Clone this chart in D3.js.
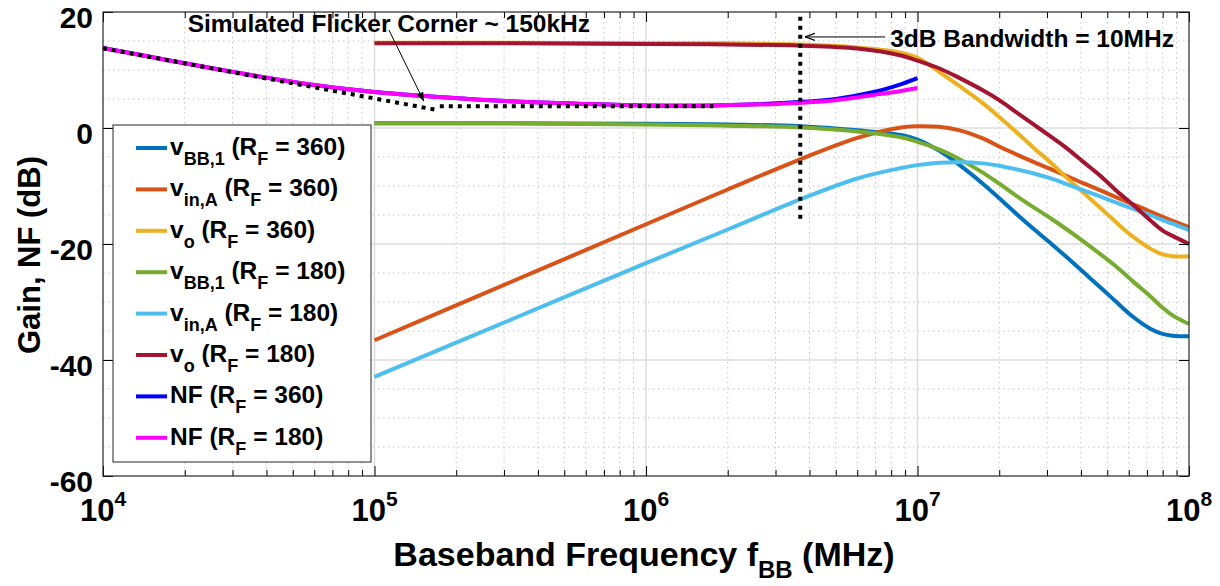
<!DOCTYPE html>
<html>
<head>
<meta charset="utf-8">
<script src="https://cdn.jsdelivr.net/npm/d3@7"></script>
<style>
  body { margin: 0; background: #fff; }
  svg { display: block; }
  text { font-family: "Liberation Sans", Arial, Helvetica, sans-serif; font-weight: bold; fill: #000; }
</style>
</head>
<body>
<svg id="chart" width="1220" height="586"></svg>
<script>
// ---- data -----------------------------------------------------------------
// Frequency grid (Hz) for the node-gain curves
const gainFreq = [1e5, 3.16e5, 1e6, 2e6, 3.7e6, 6e6, 8.7e6, 1e7, 1.2e7, 1.43e7, 1.74e7, 2e7,
                  2.3e7, 2.66e7, 3.1e7, 3.55e7, 4.07e7, 4.7e7, 5.43e7, 6.2e7, 7.2e7, 8e7, 8.7e7, 1e8];
// Gains in dB
const vBB1_360 = [0.8, 0.8, 0.75, 0.6, 0.3, -0.4, -1.2, -2.0, -3.9, -6.4, -9.6, -12.1,
                  -14.7, -17.3, -19.9, -22.3, -24.8, -27.4, -30.1, -32.5, -34.6, -35.5, -35.8, -35.9];
const vinA_360 = [-36.6, -26.6, -16.6, -10.6, -5.4, -1.7, 0.1, 0.3, 0.2, -0.4, -1.8, -3.2,
                  -4.5, -5.8, -7.1, -8.3, -9.5, -10.7, -12.0, -13.1, -14.4, -15.3, -16.0, -17.1];
const vo_360   = [14.7, 14.7, 14.6, 14.6, 14.4, 13.9, 13.0, 12.1, 9.7, 7.2, 4.3, 1.9,
                  -0.6, -3.3, -6.0, -8.6, -11.1, -13.7, -16.4, -18.7, -20.8, -21.8, -22.1, -22.1];
const vBB1_180 = [0.8, 0.8, 0.6, 0.4, 0.1, -0.6, -1.6, -2.4, -3.7, -5.4, -7.7, -9.6,
                  -11.6, -13.6, -15.6, -17.5, -19.5, -21.7, -24.0, -26.4, -29.0, -31.0, -32.3, -33.8];
const vinA_180 = [-42.9, -33.1, -23.3, -17.5, -12.3, -8.7, -6.9, -6.4, -6.0, -5.9, -6.1, -6.5,
                  -7.1, -7.8, -8.7, -9.7, -10.7, -11.8, -12.9, -13.9, -15.0, -15.9, -16.5, -17.6];
const vo_180   = [14.6, 14.6, 14.5, 14.4, 14.2, 13.7, 12.5, 11.6, 10.3, 8.6, 6.5, 4.8,
                  2.8, 0.7, -1.5, -3.5, -5.8, -8.2, -10.9, -13.2, -15.9, -17.7, -18.6, -20.0];

// Noise figure (dB)
const nfFreq = [1e4, 1.78e4, 3.16e4, 5.62e4, 1e5, 1.78e5, 3.16e5, 5.62e5, 1e6, 1.78e6,
                3.16e6, 5e6, 6.9e6, 8.5e6, 1e7];
const nf_360 = [13.8, 11.6, 9.5, 7.6, 6.2, 5.3, 4.6, 4.2, 3.9, 3.9, 4.3, 5.0, 6.2, 7.4, 8.6];
const nf_180 = [13.8, 11.6, 9.5, 7.6, 6.2, 5.3, 4.6, 4.2, 3.9, 3.9, 4.2, 4.8, 5.7, 6.3, 6.9];

// Flicker-noise asymptote and white-noise floor
const flickerSlopeFreq = [1e4, 1.7e5];
const flickerSlopeDb   = [13.75, 3.1];
const noiseFloorFreq   = [1.74e5, 1.77e6];
const noiseFloorDb     = [3.75, 3.75];

// 3 dB bandwidth marker
const bwMarkerFreq = [3.7e6, 3.7e6];
const bwMarkerDb   = [19.2, -15.7];

// Axis ticks
const xMajorTicks = [1e4, 1e5, 1e6, 1e7, 1e8];
const xTickExponents = ["4", "5", "6", "7", "8"];
const yMajorTicks = [-60, -40, -20, 0, 20];

// Legend entries: [text, subscript] pairs make up each label
const seriesNames = [
  [["v", ""], ["BB,1", "sub"], [" (R", ""], ["F", "sub"], [" = 360)", ""]],
  [["v", ""], ["in,A", "sub"], [" (R", ""], ["F", "sub"], [" = 360)", ""]],
  [["v", ""], ["o", "sub"], [" (R", ""], ["F", "sub"], [" = 360)", ""]],
  [["v", ""], ["BB,1", "sub"], [" (R", ""], ["F", "sub"], [" = 180)", ""]],
  [["v", ""], ["in,A", "sub"], [" (R", ""], ["F", "sub"], [" = 180)", ""]],
  [["v", ""], ["o", "sub"], [" (R", ""], ["F", "sub"], [" = 180)", ""]],
  [["NF (R", ""], ["F", "sub"], [" = 360)", ""]],
  [["NF (R", ""], ["F", "sub"], [" = 180)", ""]]
];
const seriesColors = ["#0072BD", "#D95319", "#EDB120", "#77AC30", "#4DBEEE", "#A2142F", "#0000FF", "#FF00FF"];

// ---- layout ---------------------------------------------------------------
const svg = d3.select("#chart");
const plot = { left: 103, right: 1189, top: 12, bottom: 476 };

const x = d3.scaleLog().domain([1e4, 1e8]).range([plot.left, plot.right]);
const y = d3.scaleLinear().domain([-60, 20]).range([plot.bottom, plot.top]);

const zip = (fs, vs) => fs.map((f, i) => [f, vs[i]]);
const series = [
  zip(gainFreq, vBB1_360), zip(gainFreq, vinA_360), zip(gainFreq, vo_360),
  zip(gainFreq, vBB1_180), zip(gainFreq, vinA_180), zip(gainFreq, vo_180),
  zip(nfFreq, nf_360), zip(nfFreq, nf_180)
];

// ---- grid -----------------------------------------------------------------
const grid = svg.append("g");
const xMinor = [];
for (let dec = 1e4; dec < 1e8; dec *= 10) for (let k = 2; k <= 9; k++) xMinor.push(dec * k);
const yMinor = d3.range(-55, 20, 5).filter(v => v % 20 !== 0);

grid.selectAll(".xmin").data(xMinor).join("line")
  .attr("x1", d => x(d)).attr("x2", d => x(d)).attr("y1", plot.top).attr("y2", plot.bottom)
  .attr("stroke", "#c4c4c4").attr("stroke-width", 1).attr("stroke-dasharray", "1.5,3.5");
grid.selectAll(".ymin").data(yMinor).join("line")
  .attr("x1", plot.left).attr("x2", plot.right).attr("y1", d => y(d)).attr("y2", d => y(d))
  .attr("stroke", "#c4c4c4").attr("stroke-width", 1).attr("stroke-dasharray", "1.5,3.5");
grid.selectAll(".xmaj").data(xMajorTicks.slice(1, -1)).join("line")
  .attr("x1", d => x(d)).attr("x2", d => x(d)).attr("y1", plot.top).attr("y2", plot.bottom)
  .attr("stroke", "#dcdcdc").attr("stroke-width", 1.5);
grid.selectAll(".ymaj").data(yMajorTicks.slice(1, -1)).join("line")
  .attr("x1", plot.left).attr("x2", plot.right).attr("y1", d => y(d)).attr("y2", d => y(d))
  .attr("stroke", "#dcdcdc").attr("stroke-width", 1.5);

// ---- curves ---------------------------------------------------------------
const line = d3.line().x(d => x(d[0])).y(d => y(d[1])).curve(d3.curveCatmullRom.alpha(0.5));
svg.append("g").selectAll("path").data(series).join("path")
  .attr("d", line).attr("fill", "none")
  .attr("stroke", (d, i) => seriesColors[i]).attr("stroke-width", 4)
  .attr("stroke-linejoin", "round");

// Dotted black guides
const guide = d3.line().x(d => x(d[0])).y(d => y(d[1]));
const guides = [zip(flickerSlopeFreq, flickerSlopeDb), zip(noiseFloorFreq, noiseFloorDb), zip(bwMarkerFreq, bwMarkerDb)];
svg.append("g").selectAll("path").data(guides).join("path")
  .attr("d", guide).attr("fill", "none").attr("stroke", "#000")
  .attr("stroke-width", 4).attr("stroke-dasharray", "4,5");

// ---- annotations ------------------------------------------------------------
const defs = svg.append("defs");
defs.append("marker").attr("id", "headFilled").attr("viewBox", "0 0 10 10")
  .attr("refX", 10).attr("refY", 5).attr("markerWidth", 9).attr("markerHeight", 9)
  .attr("markerUnits", "userSpaceOnUse").attr("orient", "auto")
  .append("path").attr("d", "M0,1 L10,5 L0,9 z").attr("fill", "#000");
defs.append("marker").attr("id", "headOpen").attr("viewBox", "0 0 10 10")
  .attr("refX", 10).attr("refY", 5).attr("markerWidth", 10).attr("markerHeight", 10)
  .attr("markerUnits", "userSpaceOnUse").attr("orient", "auto")
  .append("path").attr("d", "M0,1.5 L10,5 L0,8.5").attr("fill", "none").attr("stroke", "#000").attr("stroke-width", 1.2);

const ann = svg.append("g");
ann.append("line")
  .attr("x1", x(1.13e5)).attr("y1", y(16.9)).attr("x2", x(1.52e5)).attr("y2", y(4.6))
  .attr("stroke", "#000").attr("stroke-width", 1).attr("marker-end", "url(#headFilled)");
ann.append("text").attr("x", x(2.05e4)).attr("y", y(16.5)).attr("font-size", 24.5)
  .text("Simulated Flicker Corner ~ 150kHz");
ann.append("line")
  .attr("x1", x(7.6e6)).attr("y1", y(15.7)).attr("x2", x(3.85e6)).attr("y2", y(15.7))
  .attr("stroke", "#000").attr("stroke-width", 1).attr("marker-end", "url(#headOpen)");
ann.append("text").attr("x", x(7.93e6)).attr("y", y(14.0)).attr("font-size", 24.5)
  .text("3dB Bandwidth = 10MHz");

// ---- axes box and ticks ---------------------------------------------------
const axes = svg.append("g");
const tickStyle = g => {
  g.select(".domain").remove();
  g.selectAll("line").attr("stroke", "#000").attr("stroke-width", 1);
  g.selectAll("text").remove();
};
axes.append("g").attr("transform", `translate(0,${plot.bottom})`)
  .call(d3.axisBottom(x).tickValues(xMajorTicks).tickSize(-10)).call(tickStyle);
axes.append("g").attr("transform", `translate(0,${plot.bottom})`)
  .call(d3.axisBottom(x).tickValues(xMinor).tickSize(-6)).call(tickStyle);
axes.append("g").attr("transform", `translate(0,${plot.top})`)
  .call(d3.axisTop(x).tickValues(xMajorTicks).tickSize(-10)).call(tickStyle);
axes.append("g").attr("transform", `translate(0,${plot.top})`)
  .call(d3.axisTop(x).tickValues(xMinor).tickSize(-6)).call(tickStyle);
axes.append("g").attr("transform", `translate(${plot.right},0)`)
  .call(d3.axisRight(y).tickValues(yMajorTicks).tickSize(-10)).call(tickStyle);

const yAxis = axes.append("g").attr("transform", `translate(${plot.left},0)`)
  .call(d3.axisLeft(y).tickValues(yMajorTicks).tickSize(-10).tickPadding(10).tickFormat(d => String(d)));
yAxis.select(".domain").remove();
yAxis.selectAll("line").attr("stroke", "#000");
yAxis.selectAll("text").attr("font-size", 30).attr("font-family", null).attr("fill", "#000").attr("dy", "0.52em");

axes.append("rect")
  .attr("x", plot.left).attr("y", plot.top)
  .attr("width", plot.right - plot.left).attr("height", plot.bottom - plot.top)
  .attr("fill", "none").attr("stroke", "#262626").attr("stroke-width", 1.2);

// Decade labels
const xl = axes.append("g").selectAll("text").data(xMajorTicks).join("text")
  .attr("x", d => x(d)).attr("y", 521).attr("text-anchor", "middle").attr("font-size", 31);
xl.append("tspan").text("10");
xl.append("tspan").attr("dy", -15).attr("font-size", 21).text((d, i) => xTickExponents[i]);

// Axis titles
const xt = svg.append("text").attr("x", 644).attr("y", 566).attr("text-anchor", "middle").attr("font-size", 34);
xt.append("tspan").text("Baseband Frequency f");
xt.append("tspan").attr("dy", 12).attr("font-size", 24).text("BB");
xt.append("tspan").attr("dy", -12).text(" (MHz)");

svg.append("text").attr("transform", "translate(40,255) rotate(-90)")
  .attr("text-anchor", "middle").attr("font-size", 31).text("Gain, NF (dB)");

// ---- legend -----------------------------------------------------------------
const legend = svg.append("g").attr("transform", "translate(113,125)");
legend.append("rect").attr("width", 258).attr("height", 337)
  .attr("fill", "#fff").attr("stroke", "#262626").attr("stroke-width", 1);
const rows = legend.selectAll(".row").data(seriesNames).join("g")
  .attr("transform", (d, i) => `translate(0,${30 + i * 41.4})`);
rows.append("line").attr("x1", 23).attr("x2", 54).attr("y1", -7).attr("y2", -7)
  .attr("stroke", (d, i) => seriesColors[i]).attr("stroke-width", 4);
const lt = rows.append("text").attr("x", 57).attr("y", 0).attr("font-size", 24.5);
lt.each(function (parts) {
  const t = d3.select(this);
  let shifted = false;
  parts.forEach(([s, kind]) => {
    const sp = t.append("tspan").text(s);
    if (kind === "sub" && !shifted) { sp.attr("dy", 10).attr("font-size", 18); shifted = true; }
    else if (kind === "sub") { sp.attr("font-size", 18); }
    else if (shifted) { sp.attr("dy", -10); shifted = false; }
  });
});
</script>
</body>
</html>
